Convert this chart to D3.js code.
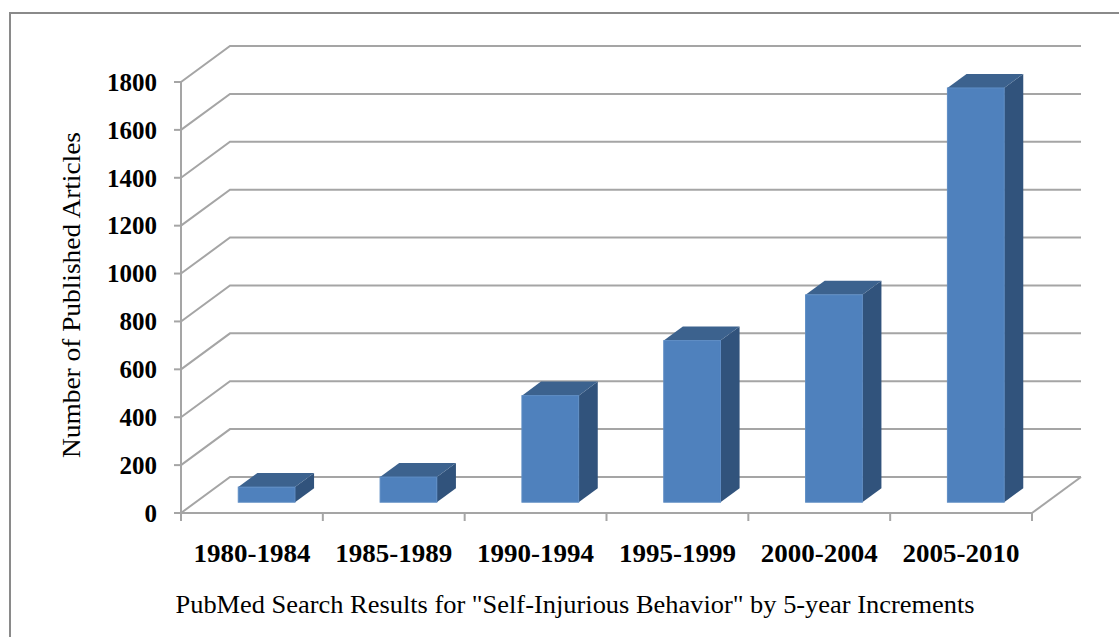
<!DOCTYPE html>
<html>
<head>
<meta charset="utf-8">
<script src="https://cdn.jsdelivr.net/npm/d3@7"></script>
<style>
  html, body { margin: 0; padding: 0; background: #fff; }
  svg { display: block; }
  text { font-family: "Liberation Serif", "Times New Roman", serif; fill: #000; }
</style>
</head>
<body>
<svg id="chart" width="1119" height="637"></svg>
<script>
// ---- data ----
const categories = ["1980-1984", "1985-1989", "1990-1994", "1995-1999", "2000-2004", "2005-2010"];
const articleCounts = [63, 105, 445, 675, 866, 1730];
const yTicks = [0, 200, 400, 600, 800, 1000, 1200, 1400, 1600, 1800];
const yAxisTitle = "Number of Published Articles";
const xAxisTitle = 'PubMed Search Results for "Self-Injurious Behavior" by 5-year Increments';

// ---- layout ----
const svg = d3.select("#chart");
const X0 = 181, X1 = 1032;       // front floor edge
const Y0 = 513, YTOP = 82;       // front plane zero and max
const DX = 49, DY = -36;         // full depth projection
const F1 = 0.30, F2 = 0.69;      // bar depth range
const gridColor = "#a5a5a5";

const x = d3.scaleBand().domain(categories).range([X0, X1]).padding(0);
const y = d3.scaleLinear().domain([0, 1800]).range([0, Y0 - YTOP]);
const P = (px, v, f) => [px + f * DX, Y0 - y(v) + f * DY];

// outer border
svg.append("path")
  .attr("d", "M10,650 L10,13 L1130,13")
  .attr("fill", "none").attr("stroke", "#8a8a8a").attr("stroke-width", 2);

const grid = svg.append("g").attr("stroke", gridColor).attr("stroke-width", 2).attr("fill", "none");
// back wall gridlines + side wall diagonals
yTicks.forEach(t => {
  const a = P(X0, t, 0), b = P(X0, t, 1), c = P(X1, t, 1);
  grid.append("polyline").attr("points", [a, b, c].map(p => p.join(",")).join(" "));
});
// floor right edge
grid.append("polyline").attr("points", [P(X1, 0, 0), P(X1, 0, 1)].map(p => p.join(",")).join(" "));
// front vertical axis
grid.append("line").attr("x1", X0).attr("x2", X0).attr("y1", Y0).attr("y2", YTOP);
// front floor line
grid.append("line").attr("x1", X0).attr("x2", X1).attr("y1", Y0).attr("y2", Y0);
// y ticks
yTicks.forEach(t => {
  grid.append("line").attr("x1", X0 - 7).attr("x2", X0).attr("y1", Y0 - y(t)).attr("y2", Y0 - y(t));
});
// x ticks
const bounds = categories.map(c => x(c)).concat([X1]);
bounds.forEach(b => {
  grid.append("line").attr("x1", b).attr("x2", b).attr("y1", Y0).attr("y2", Y0 + 8);
});

// y tick labels
svg.append("g").selectAll("text").data(yTicks).join("text")
  .attr("x", 157).attr("y", d => Y0 - y(d))
  .attr("dy", "0.35em")
  .attr("text-anchor", "end")
  .attr("font-weight", "bold").attr("font-size", 25)
  .text(d => d);

// category labels
svg.append("g").selectAll("text").data(categories).join("text")
  .attr("x", d => x(d) + x.bandwidth() / 2).attr("y", 562)
  .attr("text-anchor", "middle")
  .attr("font-weight", "bold").attr("font-size", 25)
  .attr("textLength", 117).attr("lengthAdjust", "spacingAndGlyphs")
  .text(d => d);

// bars
const barW = x.bandwidth() / 2.5;
const bars = svg.append("g");
const data = categories.map((c, i) => ({ c, v: articleCounts[i] }));
data.forEach(d => {
  const x0 = x(d.c) + (x.bandwidth() - barW) / 2, x1 = x0 + barW;
  const g = bars.append("g");
  const pts = a => a.map(p => p.join(",")).join(" ");
  // side
  g.append("polygon").attr("points", pts([P(x1, 0, F1), P(x1, d.v, F1), P(x1, d.v, F2), P(x1, 0, F2)]))
    .attr("fill", "#31537c");
  // top
  g.append("polygon").attr("points", pts([P(x0, d.v, F1), P(x1, d.v, F1), P(x1, d.v, F2), P(x0, d.v, F2)]))
    .attr("fill", "#3c628e");
  // front
  const tl = P(x0, d.v, F1), br = P(x1, 0, F1);
  g.append("rect").attr("x", tl[0]).attr("y", tl[1]).attr("width", br[0] - tl[0]).attr("height", br[1] - tl[1])
    .attr("fill", "#4f81bd").attr("stroke", "#5d8cc4").attr("stroke-width", 1);
});

// axis titles
svg.append("text")
  .attr("transform", "translate(80,295) rotate(-90)")
  .attr("text-anchor", "middle")
  .attr("font-size", 26)
  .attr("textLength", 326).attr("lengthAdjust", "spacingAndGlyphs")
  .text(yAxisTitle);

svg.append("text")
  .attr("x", 575).attr("y", 613)
  .attr("text-anchor", "middle")
  .attr("font-size", 26)
  .attr("textLength", 799).attr("lengthAdjust", "spacingAndGlyphs")
  .text(xAxisTitle);
</script>
</body>
</html>
